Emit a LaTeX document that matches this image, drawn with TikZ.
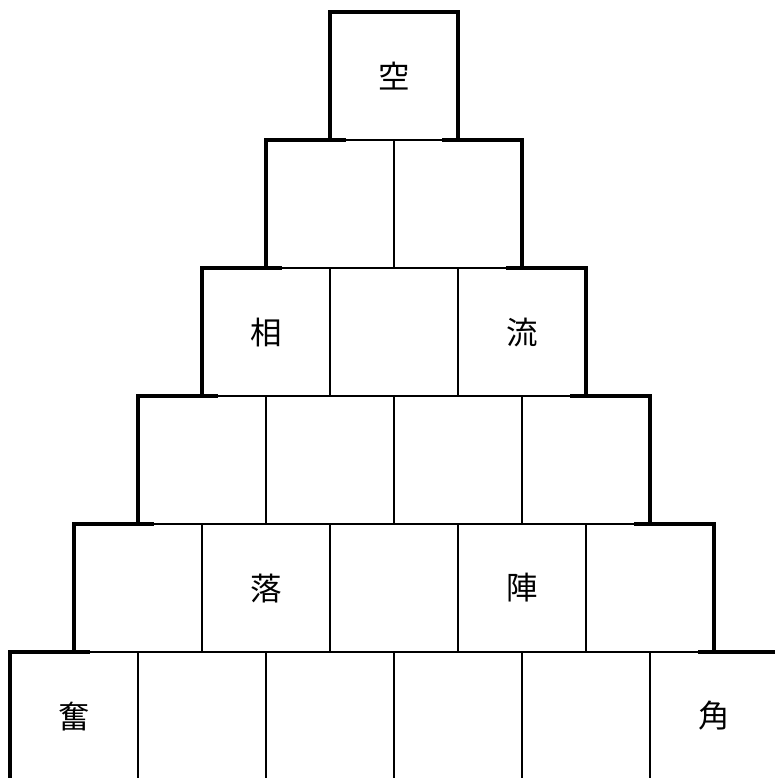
\documentclass[tikz,border=0pt]{standalone}
\usepackage{fontspec}
\newfontfamily\jpfont{Noto Sans CJK JP}
\begin{document}
\begin{tikzpicture}[
    cell/.style={draw, line width=0.3pt, minimum size=1cm, inner sep=0pt, outer sep=0pt},
    word/.style={font=\jpfont\fontsize{7}{8}\selectfont},
    rim/.style={line width=0.9pt, line join=miter}]
  \useasboundingbox (-0.078,0.094) rectangle (5.969,-5.984);
  % cells, row by row
  \foreach \r in {0,...,5}{
    \foreach \c in {0,...,\r}{
      \node[cell] (c\r\c) at ({3-0.5*\r+\c},{-\r-0.5}) {};
    }
  }
  % characters
  \node[word] (kong) at (c00) {空};
  \node[word] (xiang) at (c20) {相};
  \node[word] (liu) at (c22) {流};
  \node[word] (luo) at (c41) {落};
  \node[word] (zhen) at (c43) {陣};
  \node[word] (fen) at (c50) {奮};
  \node[word] (jiao) at (c55) {角};
  % outer steps
  \draw[rim] (c00.south west) |- (c00.north east) -- (c00.south east);
  \foreach \r in {1,...,5}{
    \draw[rim] (c\r0.south west) -- (c\r0.north west) -- ++(0.625,0);
    \draw[rim] (c\r\r.south east) -- (c\r\r.north east) -- ++(-0.625,0);
  }
\end{tikzpicture}
\end{document}
